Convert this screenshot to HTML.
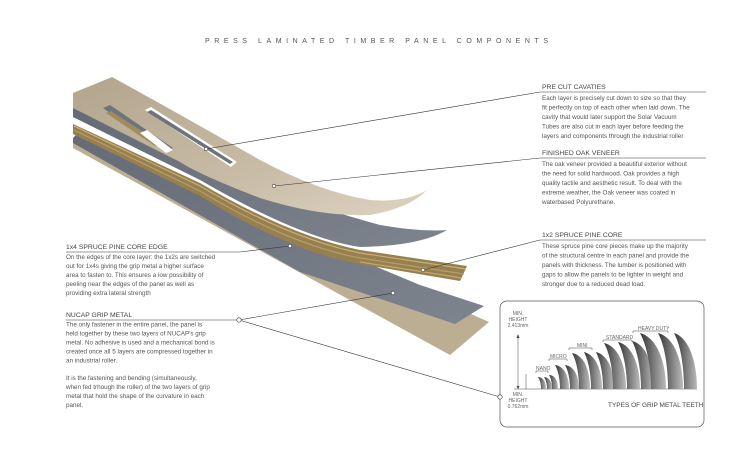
<!DOCTYPE html>
<html><head><meta charset="utf-8"><style>
html,body{margin:0;padding:0;background:#fff;}
svg{display:block;font-family:"Liberation Sans",sans-serif;}
.b{font-size:6.3px;fill:#555;}
.h{font-size:6.8px;fill:#444;}
.s{font-size:5px;fill:#666;}
</style></head><body>
<svg width="730" height="472" viewBox="0 0 730 472" xmlns="http://www.w3.org/2000/svg">
<defs>
<linearGradient id="oak" x1="0" y1="0" x2="1" y2="1"><stop offset="0" stop-color="#b3a58c"/><stop offset="0.6" stop-color="#c8bca6"/><stop offset="1" stop-color="#ddd3c2"/></linearGradient>
<linearGradient id="gm" x1="0" y1="0" x2="1" y2="1"><stop offset="0" stop-color="#656b76"/><stop offset="1" stop-color="#7e848e"/></linearGradient>
<linearGradient id="tooth" x1="0" y1="0" x2="1" y2="0"><stop offset="0" stop-color="#333"/><stop offset="0.5" stop-color="#777"/><stop offset="1" stop-color="#bbb"/></linearGradient>
</defs>
<rect width="730" height="472" fill="#fff"/>
<text x="205" y="43" font-size="7" fill="#555" textLength="343" lengthAdjust="spacing">PRESS LAMINATED TIMBER PANEL COMPONENTS</text>

<!-- bottom veneer -->
<polygon points="73,143 78,139 489,322 450,355 73,148" fill="#bcae92"/>
<!-- bottom grip metal -->
<polygon points="73,138 78,133 300,235 420,285 484,306 455,324 300,272 73,143" fill="url(#gm)"/>
<!-- core strips -->
<path d="M73,124 L200,183 Q290,236 360,250 L467,266 L460,281 L360,264 Q290,252 200,196 L73,134 Z" fill="#96804f"/>
<g fill="none" stroke-width="1.2">
<path d="M74,126 L200,186 Q290,239 360,253 L466,269" stroke="#c9ae78"/>
<path d="M74,130 L200,191 Q290,245 360,258 L464,274" stroke="#b99d68"/>
<path d="M360,262 L462,278" stroke="#c4a870"/>
</g>
<!-- top grip metal -->
<path d="M73,108 Q250,190 380,225 Q420,232 447,230 Q420,246 360,247 Q300,238 200,180 L73,117 Z" fill="url(#gm)"/>
<!-- top oak veneer -->
<path d="M73,93 L112,77 Q190,120 260,160 Q320,192 370,200 Q405,203 427,190 Q410,208 370,215 Q320,217 260,198 Q200,175 180,162 L73,108 Z" fill="url(#oak)"/>
<!-- cavities -->
<polygon points="145,110 151,107 237,162 231,167" fill="#fff"/>
<polygon points="147,112 151,110 233,162 230,164" fill="#6e747e"/>
<polygon points="103,108 110,105 173,148 166,152" fill="#6e747e"/>
<polygon points="106,113 111,111 160,143 155,146" fill="#a08b5c"/>
<polygon points="140,133 147,130 173,150 166,153" fill="#fff"/>

<!-- leader lines -->
<g stroke="#333" stroke-width="0.6" fill="none">
<line x1="540" y1="92" x2="706" y2="92"/><line x1="206" y1="149" x2="540" y2="92"/>
<line x1="540" y1="158" x2="706" y2="158"/><line x1="274" y1="186" x2="540" y2="158"/>
<line x1="540" y1="240" x2="706" y2="240"/><line x1="423" y1="270" x2="540" y2="240"/>
<line x1="66" y1="252" x2="240" y2="252"/><line x1="240" y1="252" x2="290" y2="246"/>
<line x1="66" y1="320" x2="239" y2="320"/><line x1="239" y1="320" x2="393" y2="293"/>
<line x1="239" y1="320" x2="500" y2="397"/>
</g>
<g fill="#fff" stroke="#333" stroke-width="0.6">
<circle cx="206" cy="149" r="1.8"/><circle cx="274" cy="186" r="1.8"/><circle cx="423" cy="270" r="1.8"/>
<circle cx="290" cy="246" r="1.8"/><circle cx="393" cy="293" r="1.8"/><circle cx="239" cy="320" r="2.2"/><circle cx="500" cy="397" r="2.2"/>
</g>

<!-- right texts -->
<text class="h" x="542" y="89">PRE CUT CAVATIES</text>
<text class="b" x="542" y="100">Each layer is precisely cut down to size so that they</text>
<text class="b" x="542" y="109.5">fit perfectly on top of each other when laid down. The</text>
<text class="b" x="542" y="119">cavity that would later support the Solar Vacuum</text>
<text class="b" x="542" y="128.5">Tubes are also cut in each layer before feeding the</text>
<text class="b" x="542" y="138">layers and components through the industrial roller</text>

<text class="h" x="542" y="155">FINISHED OAK VENEER</text>
<text class="b" x="542" y="166">The oak veneer provided a beautiful exterior without</text>
<text class="b" x="542" y="175.5">the need for solid hardwood. Oak provides a high</text>
<text class="b" x="542" y="185">quality tactile and aesthetic result. To deal with the</text>
<text class="b" x="542" y="194.5">extreme weather, the Oak veneer was coated in</text>
<text class="b" x="542" y="204">waterbased Polyurethane.</text>

<text class="h" x="542" y="237">1x2 SPRUCE PINE CORE</text>
<text class="b" x="542" y="248">These spruce pine core pieces make up the majority</text>
<text class="b" x="542" y="257.5">of the structural centre in each panel and provide the</text>
<text class="b" x="542" y="267">panels with thickness. The lumber is positioned with</text>
<text class="b" x="542" y="276.5">gaps to allow the panels to be lighter in weight and</text>
<text class="b" x="542" y="286">stronger due to a reduced dead load.</text>

<!-- left texts -->
<text class="h" x="66" y="249">1x4 SPRUCE PINE CORE EDGE</text>
<text class="b" x="66" y="259">On the edges of the core layer: the 1x2s are switched</text>
<text class="b" x="66" y="268">out for 1x4s giving the grip metal a higher surface</text>
<text class="b" x="66" y="277">area to fasten to. This ensures a low possibility of</text>
<text class="b" x="66" y="286">peeling  near the edges of the panel as well as</text>
<text class="b" x="66" y="295">providing extra lateral strength</text>

<text class="h" x="66" y="317">NUCAP GRIP METAL</text>
<text class="b" x="66" y="326.5">The only fastener in the entire panel, the panel is</text>
<text class="b" x="66" y="335.5">held together by these two layers of NUCAP's grip</text>
<text class="b" x="66" y="344.5">metal. No adhesive is used and a mechanical bond is</text>
<text class="b" x="66" y="353.5">created once all 5 layers are compressed together in</text>
<text class="b" x="66" y="362.5">an industrial roller.</text>
<text class="b" x="66" y="380">It is the fastening and bending (simultaneously,</text>
<text class="b" x="66" y="389">when fed trhough the roller) of the two layers of grip</text>
<text class="b" x="66" y="398">metal that hold the shape of the curvature in each</text>
<text class="b" x="66" y="407">panel.</text>

<!-- teeth box -->
<rect x="500" y="301" width="204" height="126" rx="7" fill="#fff" stroke="#555" stroke-width="0.7"/>
<circle cx="500" cy="397" r="2.2" fill="#fff" stroke="#333" stroke-width="0.6"/>
<g class="s" text-anchor="middle">
<text x="518" y="315">MIN.</text><text x="518" y="321">HEIGHT</text><text x="518" y="327">2.413mm</text>
<text x="518" y="396">MIN.</text><text x="518" y="402">HEIGHT</text><text x="518" y="408">0.762mm</text>
</g>
<g stroke="#444" stroke-width="0.5" fill="none">
<line x1="518" y1="335" x2="518" y2="389"/><line x1="526" y1="374" x2="526" y2="389"/>
<line x1="514" y1="389" x2="697" y2="389"/>
<path d="M536,373 V371 H548 V373"/><path d="M549,361 V359 H567 V361"/>
<path d="M569,350 V348 H592 V350"/><path d="M603,342 V340 H632 V342"/><path d="M633,333 V331 H668 V333"/>
</g>
<path d="M516.5,338 L518,334 L519.5,338Z M516.5,386 L518,389 L519.5,386Z" fill="#444"/>
<g class="s">
<text x="536" y="370">NANO</text><text x="550" y="358">MICRO</text><text x="577" y="347">MINI</text>
<text x="606" y="339">STANDARD</text><text x="638" y="330">HEAVY DUTY</text>
</g>
<g fill="url(#tooth)">
<path d="M538,377 C543,377 546,382 546,389 L541,389 C541,384 540,380 538,377Z"/>
<path d="M544,377 C549,377 552,382 552,389 L547,389 C547,384 546,380 544,377Z"/>
<path d="M549,375 C555,375 558,381 558,389 L552,389 C552,383 551,378 549,375Z"/>
<path d="M555,365 C564,366 569,376 569,389 L560,389 C560,379 558,370 555,365Z"/>
<path d="M565,365 C574,366 579,376 579,389 L570,389 C570,379 568,370 565,365Z"/>
<path d="M572,353 C584,355 590,370 590,389 L579,389 C579,372 576,360 572,353Z"/>
<path d="M584,352 C596,355 602,370 602,389 L591,389 C591,372 588,360 584,352Z"/>
<path d="M596,352 C608,355 614,370 614,389 L603,389 C603,372 600,360 596,352Z"/>
<path d="M604,343 C618,346 626,365 626,389 L613,389 C613,368 609,352 604,343Z"/>
<path d="M618,342 C632,345 640,365 640,389 L627,389 C627,368 623,351 618,342Z"/>
<path d="M632,341 C646,344 654,365 654,389 L641,389 C641,368 637,350 632,341Z"/>
<path d="M640,333 C656,337 666,360 666,389 L651,389 C651,364 646,344 640,333Z"/>
<path d="M658,333 C674,337 683,360 683,389 L668,389 C668,364 664,344 658,333Z"/>
<path d="M674,333 C688,337 697,360 697,389 L684,389 C684,364 680,344 674,333Z"/>
</g>
<text x="608" y="407" font-size="6.5" fill="#444">TYPES OF GRIP METAL TEETH</text>
</svg>
</body></html>
